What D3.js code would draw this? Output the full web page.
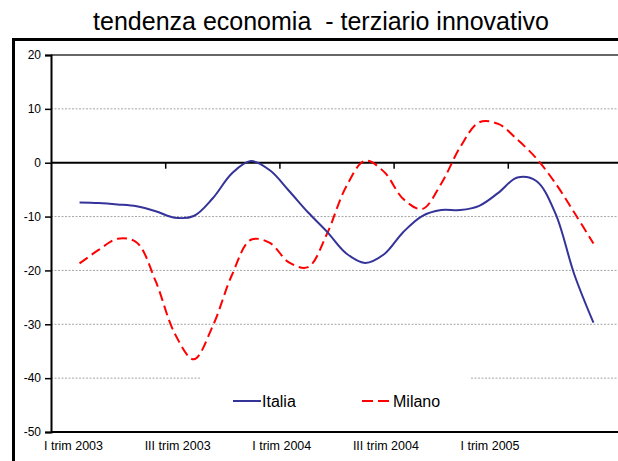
<!DOCTYPE html>
<html>
<head>
<meta charset="utf-8">
<script src="https://cdn.jsdelivr.net/npm/d3@7/dist/d3.min.js"></script>
<style>
  html, body { margin: 0; padding: 0; background: #fff; }
  svg { display: block; font-family: "Liberation Sans", Arial, sans-serif; }
</style>
</head>
<body>
<svg id="chart" width="618" height="461"></svg>
<script>
// ---- data ----
const months = [
  "gen 2003","feb 2003","mar 2003","apr 2003","mag 2003","giu 2003",
  "lug 2003","ago 2003","set 2003","ott 2003","nov 2003","dic 2003",
  "gen 2004","feb 2004","mar 2004","apr 2004","mag 2004","giu 2004",
  "lug 2004","ago 2004","set 2004","ott 2004","nov 2004","dic 2004",
  "gen 2005","feb 2005","mar 2005","apr 2005"
];
const italia = [
  -7.4, -7.5, -7.75, -8.1, -9.0, -10.2, -9.9, -6.6, -2.0, 0.3, -1.4, -5.2,
  -9.2, -12.8, -16.8, -18.6, -17.0, -12.9, -9.9, -8.8, -8.8, -8.0, -5.6, -2.75,
  -3.4, -9.4, -20.8, -29.7
];
const milano = [
  -18.7, -16.2, -14.1, -14.8, -22.0, -31.7, -36.5, -30.3, -20.9, -14.3, -14.9, -18.5,
  -19.4, -13.2, -4.5, 0.35, -1.7, -6.7, -8.6, -3.9, 2.9, 7.5, 7.2, 4.3,
  0.8, -3.8, -9.3, -15.0
];
const xTickLabels = ["I trim 2003","III trim 2003","I trim 2004","III trim 2004","I trim 2005"];
const yTicks = [20, 10, 0, -10, -20, -30, -40, -50];
const seriesNames = ["Italia", "Milano"];
const title = "tendenza economia \u00a0- terziario innovativo";

// ---- layout ----
const svg = d3.select("#chart");
const plot = { left: 51, right: 622, top: 55, bottom: 432 };

// outer frame
svg.append("rect")
  .attr("x", 13.5).attr("y", 39.5)
  .attr("width", 640).attr("height", 440)
  .attr("fill", "none").attr("stroke", "#000").attr("stroke-width", 3);

// title
svg.append("text")
  .attr("x", 321).attr("y", 30)
  .attr("text-anchor", "middle")
  .attr("font-size", 25)
  .attr("fill", "#000")
  .text(title);

const x = d3.scaleLinear().domain([-1.5, 28.5]).range([plot.left, plot.right]);
const y = d3.scaleLinear().domain([-50, 20]).range([plot.bottom, plot.top]);

// gridlines
svg.append("g").selectAll("line")
  .data(yTicks.filter(v => v !== 0 && v !== 20 && v !== -50))
  .join("line")
  .attr("x1", plot.left).attr("x2", plot.right)
  .attr("y1", d => y(d)).attr("y2", d => y(d))
  .attr("stroke", "#a6a6a6").attr("stroke-width", 1)
  .attr("stroke-dasharray", "2,1.5");

// top (20) line and bottom line
svg.append("line")
  .attr("x1", plot.left).attr("x2", plot.right)
  .attr("y1", y(20)).attr("y2", y(20))
  .attr("stroke", "#333").attr("stroke-width", 1.5);
svg.append("line")
  .attr("x1", plot.left).attr("x2", plot.right)
  .attr("y1", y(-50)).attr("y2", y(-50))
  .attr("stroke", "#000").attr("stroke-width", 2);

// y axis
const yAxis = d3.axisLeft(y).tickValues(yTicks).tickSize(6).tickPadding(4).tickFormat(d3.format("d"));
const gy = svg.append("g").attr("transform", `translate(${plot.left},0)`).call(yAxis);
gy.select(".domain").attr("stroke", "#000").attr("stroke-width", 2);
gy.selectAll(".tick line").attr("stroke", "#000").attr("stroke-width", 1.5);
gy.selectAll(".tick text")
  .attr("font-size", 12).attr("fill", "#000")
  .attr("font-family", "'Liberation Sans', Arial, sans-serif")
  .text(d => d < 0 ? "-" + Math.abs(d) : d);

// x axis (at 0)
const xTickVals = [4.5, 10.5, 16.5, 22.5];
const xAxis = d3.axisBottom(x).tickValues(xTickVals).tickSize(6).tickFormat("");
const gx = svg.append("g").attr("transform", `translate(0,${y(0)})`).call(xAxis);
gx.select(".domain").remove();
gx.selectAll(".tick line").attr("stroke", "#000").attr("stroke-width", 1.5);
svg.append("line")
  .attr("x1", plot.left).attr("x2", plot.right)
  .attr("y1", y(0)).attr("y2", y(0))
  .attr("stroke", "#000").attr("stroke-width", 2);

// x labels
const xl = d3.scalePoint().domain(xTickLabels).range([73.5, 490]);
svg.append("g").selectAll("text")
  .data(xTickLabels).join("text")
  .attr("x", d => xl(d)).attr("y", 450)
  .attr("text-anchor", "middle")
  .attr("font-size", 12.5).attr("fill", "#000")
  .text(d => d);

// legend background (covers gridline)
svg.append("rect")
  .attr("x", 200).attr("y", 372).attr("width", 270).attr("height", 54)
  .attr("fill", "#fff");

// lines
const line = d3.line()
  .x((d, i) => x(i))
  .y(d => y(d))
  .curve(d3.curveCatmullRom.alpha(0.5));

svg.append("path").datum(milano)
  .attr("d", line)
  .attr("fill", "none").attr("stroke", "#ff0000").attr("stroke-width", 2)
  .attr("stroke-dasharray", "10,5");

svg.append("path").datum(italia)
  .attr("d", line)
  .attr("fill", "none").attr("stroke", "#333399").attr("stroke-width", 2);

// legend
const leg = svg.append("g");
leg.append("line").attr("x1", 233).attr("x2", 261).attr("y1", 401).attr("y2", 401)
  .attr("stroke", "#333399").attr("stroke-width", 2);
leg.append("text").attr("x", 262).attr("y", 407).attr("font-size", 16).text(seriesNames[0]);
leg.append("line").attr("x1", 362).attr("x2", 390).attr("y1", 401).attr("y2", 401)
  .attr("stroke", "#ff0000").attr("stroke-width", 2).attr("stroke-dasharray", "11,5");
leg.append("text").attr("x", 393).attr("y", 407).attr("font-size", 16).text(seriesNames[1]);
</script>
</body>
</html>
